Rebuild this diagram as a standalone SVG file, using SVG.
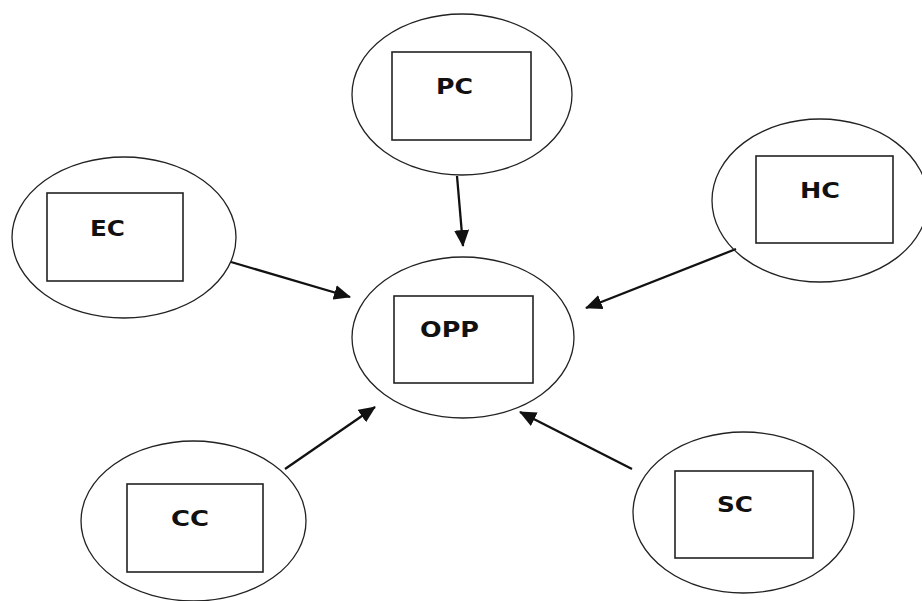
<svg xmlns="http://www.w3.org/2000/svg" width="922" height="601" viewBox="0 0 922 601">
<style>
.ell{fill:none;stroke:#222;stroke-width:1.3}
.box{fill:#fff;stroke:#222;stroke-width:1.6}
.lbl{font-family:"DejaVu Sans","Liberation Sans",sans-serif;font-weight:bold;font-size:22px;fill:#111}
.arr{stroke:#111;stroke-width:2.3;fill:none;marker-end:url(#ah)}
</style>
<defs>
<marker id="ah" markerUnits="userSpaceOnUse" markerWidth="17" markerHeight="15" refX="16" refY="7.5" orient="auto">
<path d="M0,0 L17,7.5 L0,15 Z" fill="#111"/>
</marker>
</defs>
<rect width="922" height="601" fill="#fff"/>
<g id="connectors">
<line class="arr" x1="457" y1="176" x2="463" y2="246"/>
<line class="arr" x1="231" y1="262" x2="350" y2="297"/>
<line class="arr" x1="736" y1="249" x2="586" y2="308"/>
<line class="arr" x1="285" y1="469" x2="375" y2="407"/>
<line class="arr" x1="632" y1="469" x2="520" y2="412"/>
</g>
<g id="PC">
<ellipse class="ell" cx="462" cy="94.5" rx="110" ry="80.5"/>
<rect class="box" x="392" y="52" width="139" height="88"/>
<text class="lbl" x="436" y="94" textLength="37" lengthAdjust="spacingAndGlyphs">PC</text>
</g>
<g id="EC">
<ellipse class="ell" cx="124" cy="237.5" rx="112" ry="80.5"/>
<rect class="box" x="47" y="193" width="136" height="88"/>
<text class="lbl" x="90" y="236" textLength="35" lengthAdjust="spacingAndGlyphs">EC</text>
</g>
<g id="HC">
<ellipse class="ell" cx="820" cy="200.5" rx="108" ry="81.5"/>
<rect class="box" x="756" y="156" width="137" height="87"/>
<text class="lbl" x="800" y="198" textLength="40" lengthAdjust="spacingAndGlyphs">HC</text>
</g>
<g id="OPP">
<ellipse class="ell" cx="463" cy="337.5" rx="111" ry="80.5"/>
<rect class="box" x="394" y="296" width="139" height="87"/>
<text class="lbl" x="420" y="337" textLength="59" lengthAdjust="spacingAndGlyphs">OPP</text>
</g>
<g id="CC">
<ellipse class="ell" cx="193.5" cy="521" rx="112.5" ry="80"/>
<rect class="box" x="127" y="484" width="136" height="88"/>
<text class="lbl" x="171" y="526" textLength="38" lengthAdjust="spacingAndGlyphs">CC</text>
</g>
<g id="SC">
<ellipse class="ell" cx="743.5" cy="512.5" rx="110.5" ry="80.5"/>
<rect class="box" x="675" y="471" width="138" height="87"/>
<text class="lbl" x="717" y="512" textLength="36" lengthAdjust="spacingAndGlyphs">SC</text>
</g>
</svg>
